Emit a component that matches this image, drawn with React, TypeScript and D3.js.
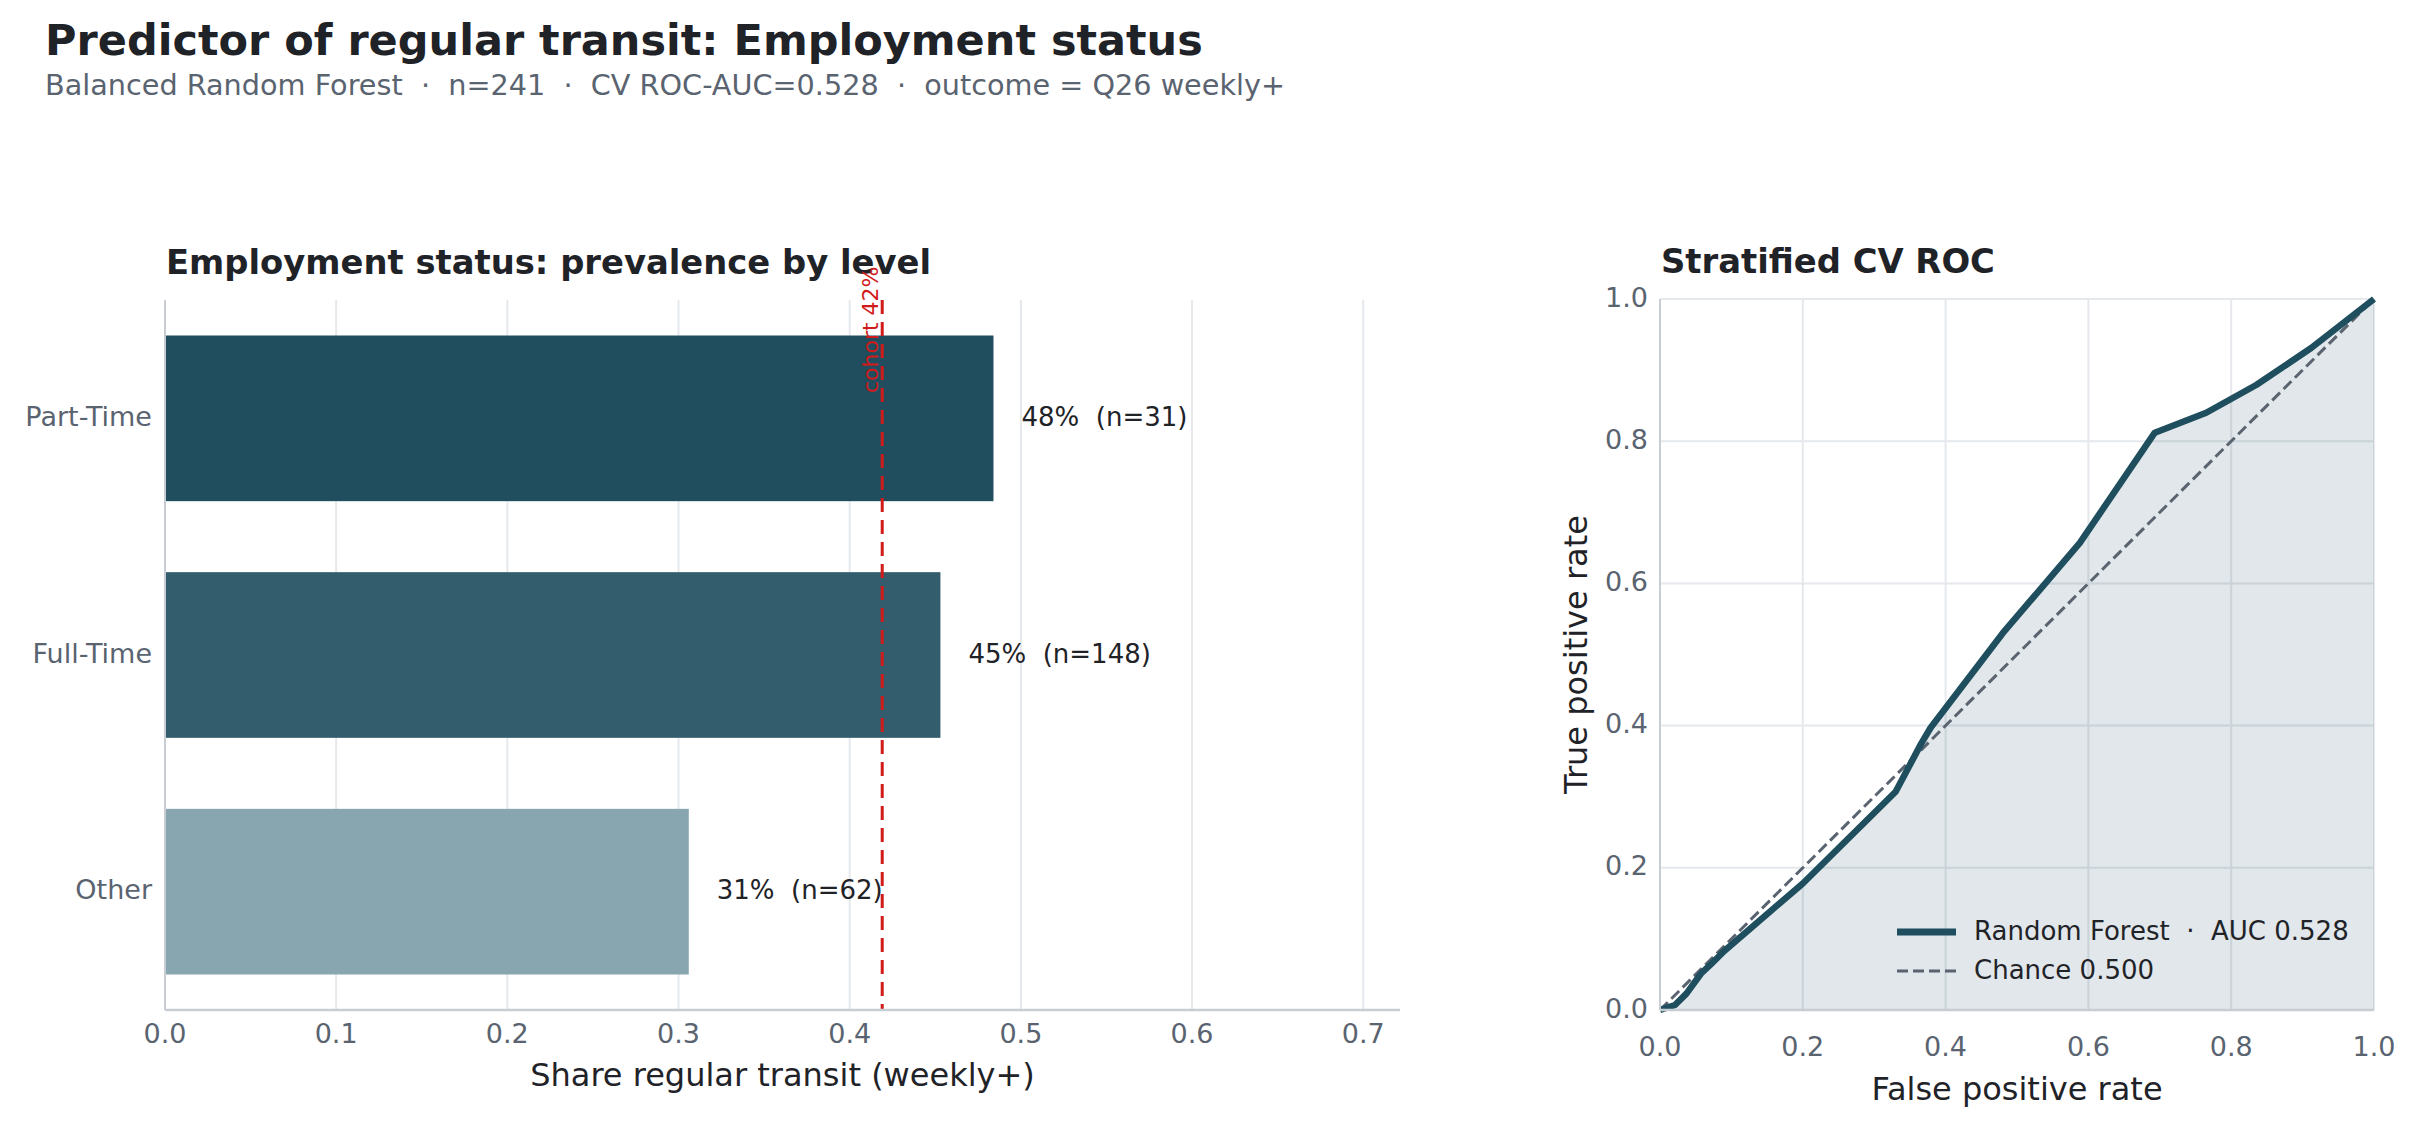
import * as d3 from "d3";

const categories = ["Part-Time", "Full-Time", "Other"];
const shares = [0.484, 0.453, 0.306];
const counts = [31, 148, 62];
const barColors = ["#204e5e", "#335d6c", "#87a6b0"];
const cohortShare = 0.419;
const barTicks = [0, 0.1, 0.2, 0.3, 0.4, 0.5, 0.6, 0.7];

const rocFpr = [0, 0.021, 0.037, 0.058, 0.07, 0.09, 0.2, 0.33, 0.366, 0.379, 0.48, 0.588, 0.693, 0.765, 0.835, 0.912, 1.0];
const rocTpr = [0, 0.007, 0.023, 0.052, 0.063, 0.083, 0.178, 0.307, 0.375, 0.397, 0.53, 0.657, 0.812, 0.84, 0.879, 0.931, 1.0];
const rocTicks = [0, 0.2, 0.4, 0.6, 0.8, 1.0];
const legendLabels = ["Random Forest  \u00b7  AUC 0.528", "Chance 0.500"];

const FONT = "DejaVu Sans";
const DARK = "#1f2328";
const GREY = "#5a6370";
const GRID = "#e5e8ec";
const SPINE = "#c8cdd4";
const NAVY = "#1f4e5f";

export default function App() {
  // left panel scales
  const x1 = d3.scaleLinear().domain([0, 0.7215]).range([165, 1400]);
  const y1 = d3.scaleBand().domain(categories).range([300, 1010]).paddingInner(0.3).paddingOuter(0.15);

  // right panel scales
  const x2 = d3.scaleLinear().domain([0, 1]).range([1660, 2374]);
  const y2 = d3.scaleLinear().domain([0, 1]).range([1010, 299]);

  const roc = rocFpr.map((f, i) => ({ f, t: rocTpr[i] }));
  const line = d3.line<{ f: number; t: number }>().x(d => x2(d.f)).y(d => y2(d.t));
  const area = d3.area<{ f: number; t: number }>().x(d => x2(d.f)).y0(y2(0)).y1(d => y2(d.t));

  return (
    <svg width={2415} height={1130} style={{ position: "absolute", left: 0, top: 0, background: "#fff" }}
      fontFamily={FONT}>
      <rect width={2415} height={1130} fill="#fff" />
      <text x={45} y={55} fontSize={43} fontWeight="bold" fill={DARK}>
        Predictor of regular transit: Employment status
      </text>
      <text x={45} y={95} fontSize={28.7} fill={GREY} style={{ whiteSpace: "pre" }}>
        {"Balanced Random Forest  \u00b7  n=241  \u00b7  CV ROC-AUC=0.528  \u00b7  outcome = Q26 weekly+"}
      </text>

      {/* left panel */}
      <text x={166} y={274} fontSize={33.8} fontWeight="bold" fill={DARK}>
        Employment status: prevalence by level
      </text>
      {barTicks.slice(1).map(t => (
        <line key={t} x1={x1(t)} x2={x1(t)} y1={300} y2={1010} stroke={GRID} strokeWidth={2} />
      ))}
      <line x1={165} x2={165} y1={300} y2={1010} stroke={SPINE} strokeWidth={2} />
      {categories.map((c, i) => (
        <g key={c}>
          <rect x={x1(0) + 1} y={y1(c)} width={x1(shares[i]) - x1(0) - 1} height={y1.bandwidth()} fill={barColors[i]} />
          <text x={152} y={y1(c)! + y1.bandwidth() / 2} textAnchor="end" dominantBaseline="middle"
            fontSize={27} fill={GREY}>{c}</text>
          <text x={x1(shares[i]) + 28} y={y1(c)! + y1.bandwidth() / 2} dominantBaseline="middle"
            fontSize={26} fill={DARK} style={{ whiteSpace: "pre" }}>
            {`${Math.round(shares[i] * 100)}%  (n=${counts[i]})`}
          </text>
        </g>
      ))}
      <line x1={x1(cohortShare)} x2={x1(cohortShare)} y1={300} y2={1010} stroke="#d11a1a"
        strokeWidth={3} strokeDasharray="14,8" />
      <text transform={`translate(${x1(cohortShare) - 4},393) rotate(-90)`} fontSize={22} fill="#d11a1a">
        {`cohort ${Math.round(cohortShare * 100)}%`}
      </text>
      <line x1={165} x2={1400} y1={1010} y2={1010} stroke={SPINE} strokeWidth={2.5} />
      {barTicks.map(t => (
        <text key={t} x={x1(t)} y={1043} textAnchor="middle" fontSize={27} fill={GREY}>{t.toFixed(1)}</text>
      ))}
      <text x={(165 + 1400) / 2} y={1086} textAnchor="middle" fontSize={32} fill={DARK}>
        Share regular transit (weekly+)
      </text>

      {/* right panel */}
      <text x={1661} y={273} fontSize={33.8} fontWeight="bold" fill={DARK}>Stratified CV ROC</text>
      {rocTicks.map(t => (
        <g key={t}>
          <line x1={x2(t)} x2={x2(t)} y1={y2(0)} y2={y2(1)} stroke={GRID} strokeWidth={2} />
          <line x1={x2(0)} x2={x2(1)} y1={y2(t)} y2={y2(t)} stroke={GRID} strokeWidth={2} />
        </g>
      ))}
      <path d={area(roc)!} fill={NAVY} fillOpacity={0.135} />
      <line x1={x2(0)} y1={y2(0)} x2={x2(1)} y2={y2(1)} stroke={GREY} strokeWidth={3} strokeDasharray="11,5" />
      <path d={line(roc)!} fill="none" stroke={NAVY} strokeWidth={6.5} strokeLinejoin="round" />
      <line x1={x2(0)} x2={x2(0)} y1={y2(0)} y2={y2(1)} stroke={SPINE} strokeWidth={2} />
      <line x1={x2(0)} x2={x2(1)} y1={y2(0)} y2={y2(0)} stroke={SPINE} strokeWidth={2.5} />
      {rocTicks.map(t => (
        <g key={t}>
          <text x={x2(t)} y={1056} textAnchor="middle" fontSize={27} fill={GREY}>{t.toFixed(1)}</text>
          <text x={1648} y={y2(t)} textAnchor="end" dominantBaseline="middle" fontSize={27} fill={GREY}>{t.toFixed(1)}</text>
        </g>
      ))}
      <text x={2017} y={1100} textAnchor="middle" fontSize={32} fill={DARK}>False positive rate</text>
      <text transform={`translate(1587,${(y2(0) + y2(1)) / 2}) rotate(-90)`} textAnchor="middle"
        fontSize={32} fill={DARK}>True positive rate</text>

      {/* legend */}
      <line x1={1897} x2={1956} y1={932} y2={932} stroke={NAVY} strokeWidth={7} />
      <line x1={1897} x2={1956} y1={971} y2={971} stroke={GREY} strokeWidth={3} strokeDasharray="11,5" />
      {legendLabels.map((l, i) => (
        <text key={l} x={1974} y={932 + i * 39} dominantBaseline="middle" fontSize={26} fill={DARK}
          style={{ whiteSpace: "pre" }}>{l}</text>
      ))}
    </svg>
  );
}
